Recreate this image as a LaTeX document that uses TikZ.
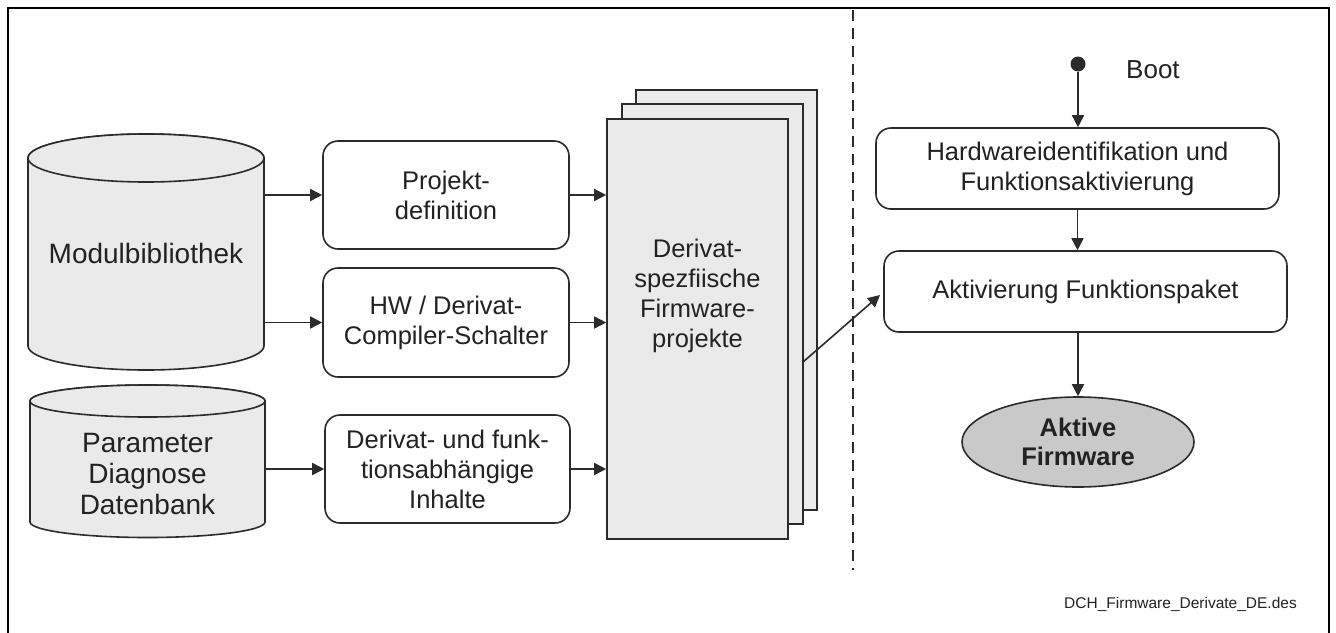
\documentclass[tikz,border=0pt]{standalone}
\usepackage{fontspec}
\setmainfont{Liberation Sans}
\usetikzlibrary{arrows.meta,shapes.geometric}
\definecolor{lc}{HTML}{2B2B2B}
\definecolor{tc}{HTML}{222222}
\definecolor{fc}{HTML}{E9EAE9}
\definecolor{ec}{HTML}{C8C9C8}
\begin{document}
\begin{tikzpicture}[x=1pt,y=-1pt,
  txt/.style={font=\fontsize{25.5}{30}\selectfont, text=tc, align=center, inner sep=0pt},
  bigtxt/.style={font=\fontsize{28}{31}\selectfont, text=tc, align=center, inner sep=0pt},
  box/.style={txt, draw=lc, line width=1.6pt, rounded corners=15pt, minimum width=246pt, minimum height=108pt},
  wbox/.style={txt, draw=lc, line width=1.6pt, rounded corners=15pt, minimum width=403pt, minimum height=81pt},
  sheet/.style={draw=lc, fill=fc, line width=1.6pt, minimum width=181pt, minimum height=420pt, inner sep=0pt},
  arr/.style={draw=lc, line width=1.6pt, -{Triangle[length=12pt,width=12pt]}},
  cyl/.style={draw=lc, fill=fc, line width=1.6pt}
]
\useasboundingbox (0,0) rectangle (1336,632);
\fill[white] (0,0) rectangle (1336,632);
% outer frame
\draw[line width=2.8pt, black] (8,640) -- (8,8) -- (1329,8) -- (1329,640);
% dashed separator
\draw[line width=2pt, lc, dash pattern=on 11pt off 7pt] (853,10) -- (853,570);

% cylinders
\path[cyl] (28,158) -- (28,346) arc[start angle=180, end angle=360, x radius=118pt, y radius=24pt] -- (264,158) arc[start angle=0, end angle=180, x radius=118pt, y radius=24pt] -- cycle;
\draw[cyl] (146,158) ellipse[x radius=118pt, y radius=24pt];
\node[txt, minimum width=236pt, minimum height=236pt] (mod) at (146,252) {};
\node[bigtxt] at (146,253) {Modulbibliothek};

\path[cyl] (30,401) -- (30,522) arc[start angle=180, end angle=360, x radius=117.5pt, y radius=15.5pt] -- (265,401) arc[start angle=0, end angle=180, x radius=117.5pt, y radius=16pt] -- cycle;
\draw[cyl] (147.5,401) ellipse[x radius=117.5pt, y radius=16pt];
\node[txt, minimum width=235pt, minimum height=152pt] (par) at (147.5,461) {};
\node[bigtxt] at (147.5,474) {Parameter\\Diagnose\\Datenbank};

% middle boxes
\node[box] (pd) at (446,195) {Projekt-\\definition};
\node[box, minimum height=109pt] (hwc) at (446,322.5) {HW / Derivat-\\Compiler-Schalter};
\node[box, minimum width=245pt] (dc) at (447.5,469) {Derivat- und funk-\\tionsabhängige\\Inhalte};

% stack of sheets
\node[sheet] (s3) at (726.5,300) {};
\node[sheet] (s2) at (712.5,314) {};
\node[sheet] (s1) at (697.5,329) {};
\node[txt] (stxt) at (697.5,296) {Derivat-\\spezfiische\\Firmware-\\projekte};

% arrows left part
\draw[arr] (mod.east |- pd.west) -- (pd.west);
\draw[arr] (mod.east |- hwc.west) -- (hwc.west);
\draw[arr] (par.east |- dc.west) -- (dc.west);
\draw[arr] (pd.east) -- (pd.east -| s1.west);
\draw[arr] (hwc.east) -- (hwc.east -| s1.west);
\draw[arr] (dc.east) -- (dc.east -| s1.west);

% right part
\node[circle, fill=lc, minimum size=15pt, inner sep=0pt] (boot) at (1078,64) {};
\node[txt, anchor=west, font=\fontsize{26}{30}\selectfont] (boottxt) at (1126,70) {Boot};
\node[wbox] (hw) at (1077.5,168.5) {Hardwareidentifikation und\\Funktionsaktivierung};
\node[wbox] (act) at (1085.5,291.5) {Aktivierung Funktionspaket};
\node[txt, ellipse, draw=lc, fill=ec, line width=1.6pt, minimum width=232pt, minimum height=90pt, font=\fontsize{25.5}{29}\selectfont\bfseries] (fw) at (1078,442) {Aktive\\Firmware};

\coordinate (sout) at (803,362);
\draw[arr] (sout) -- (880,295) coordinate (ain);
\draw[arr] (boot) -- (boot |- hw.north);
\draw[arr] (hw.south) -- (hw.south |- act.north);
\draw[arr] (act.south -| fw.north) -- (fw.north);

\node[font=\fontsize{15.5}{18}\selectfont, text=tc, anchor=east, inner sep=0pt] (fn) at (1297,604) {DCH\_Firmware\_Derivate\_DE.des};
\end{tikzpicture}
\end{document}
